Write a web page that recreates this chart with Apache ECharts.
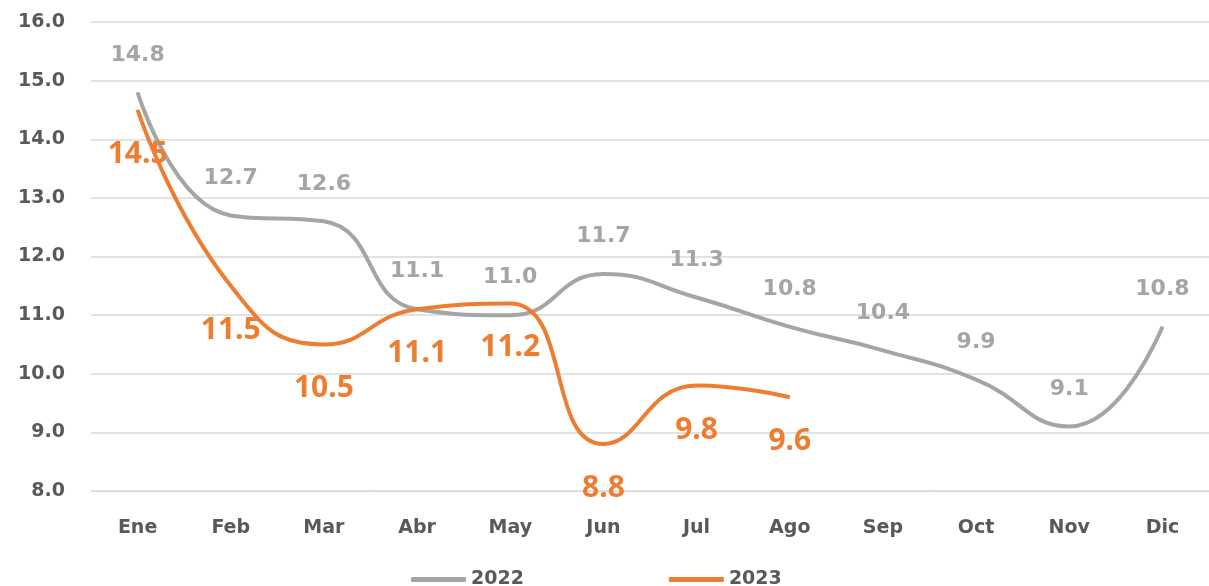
<!DOCTYPE html>
<html>
<head>
<meta charset="utf-8">
<script src="https://cdn.jsdelivr.net/npm/echarts@6/dist/echarts.min.js"></script>
<style>
  html, body { margin: 0; padding: 0; background: #fff; }
  #grafico { width: 1209px; height: 586px; }
</style>
</head>
<body>
<div id="grafico"></div>
<script>
// Datos
const meses = ['Ene', 'Feb', 'Mar', 'Abr', 'May', 'Jun', 'Jul', 'Ago', 'Sep', 'Oct', 'Nov', 'Dic'];
const valores2022 = [14.8, 12.7, 12.6, 11.1, 11.0, 11.7, 11.3, 10.8, 10.4, 9.9, 9.1, 10.8];
const valores2023 = [14.5, 11.5, 10.5, 11.1, 11.2, 8.8, 9.8, 9.6];

const fuente = 'DejaVu Sans';
const gris = '#A5A5A5';
const naranja = '#ED7D31';
const textoEje = '#595959';

function iniciar() {
    const chartDom = document.getElementById('grafico');
    const myChart = echarts.init(chartDom, null, {renderer: 'canvas'});

    const option = {
        animation: false,
        grid: { left: 91, right: -6, top: 22, bottom: 95 },
        legend: {
            top: 565,
            left: 406,
            itemGap: 145,
            itemWidth: 55,
            itemHeight: 5,
            icon: 'roundRect',
            textStyle: { fontFamily: fuente, fontSize: 19, fontWeight: 'bold', color: textoEje },
            data: ['2022', '2023']
        },
        xAxis: {
            type: 'category',
            data: meses,
            boundaryGap: true,
            axisLine: { show: true, lineStyle: { color: '#D9D9D9' } },
            axisTick: { show: false },
            axisLabel: { fontFamily: fuente, fontSize: 19, fontWeight: 'bold', color: textoEje, margin: 28 }
        },
        yAxis: {
            type: 'value',
            min: 8,
            max: 16,
            interval: 1,
            axisLine: { show: false },
            axisTick: { show: false },
            splitLine: { lineStyle: { color: '#D9D9D9', width: 1.5 } },
            axisLabel: {
                fontFamily: fuente, fontSize: 19, fontWeight: 'bold', color: textoEje, margin: 26,
                formatter: v => v.toFixed(1)
            }
        },
        series: [
            {
                name: '2022',
                type: 'line',
                data: valores2022,
                smooth: 0.5,
                symbol: 'circle',
                symbolSize: 1,
                lineStyle: { color: gris, width: 4 },
                itemStyle: { color: gris },
                label: {
                    show: true,
                    position: 'top',
                    distance: 26,
                    fontFamily: fuente,
                    fontSize: 22,
                    fontWeight: 'bold',
                    color: gris,
                    formatter: p => p.value.toFixed(1)
                },
                z: 2
            },
            {
                name: '2023',
                type: 'line',
                data: valores2023,
                smooth: 0.5,
                symbol: 'circle',
                symbolSize: 1,
                lineStyle: { color: naranja, width: 4 },
                itemStyle: { color: naranja },
                label: {
                    show: true,
                    position: 'bottom',
                    distance: 29,
                    fontFamily: 'Noto Sans',
                    fontSize: 30,
                    fontWeight: 'bold',
                    color: naranja,
                    formatter: p => p.value.toFixed(1)
                },
                z: 3
            }
        ]
    };

    myChart.setOption(option);
}

iniciar();
</script>
</body>
</html>
